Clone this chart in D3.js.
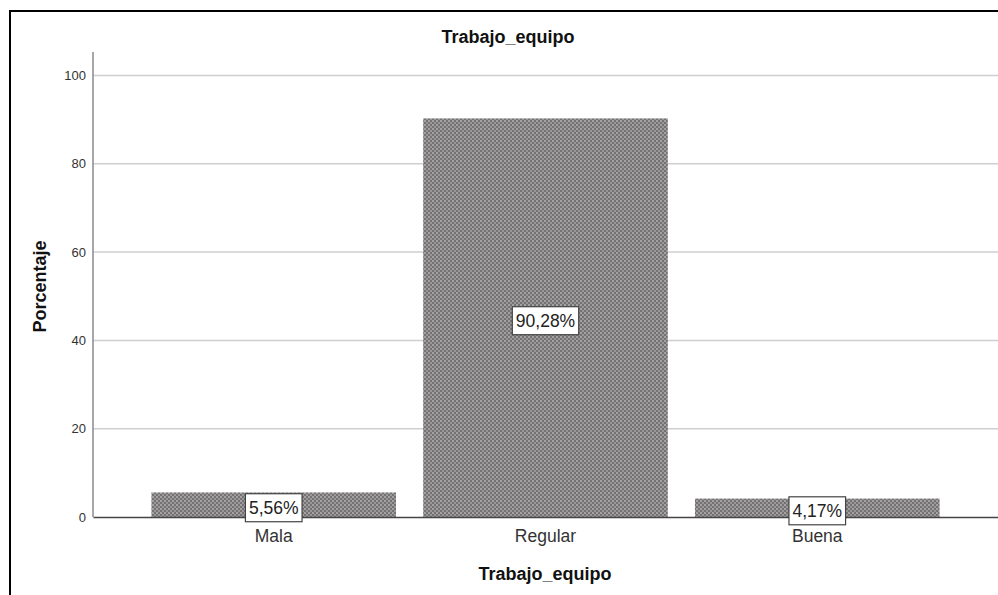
<!DOCTYPE html>
<html>
<head>
<meta charset="utf-8">
<script src="https://cdn.jsdelivr.net/npm/d3@7"></script>
<style>
  html, body { margin: 0; padding: 0; background: #fff; }
  svg { display: block; font-family: Arial, "Liberation Sans", sans-serif; }
</style>
</head>
<body>
<script>
// Distribution of "Trabajo_equipo" answers, in percent
const categories = ["Mala", "Regular", "Buena"];
const percentages = [5.56, 90.28, 4.17];
const yTicks = [0, 20, 40, 60, 80, 100];
const chartTitle = "Trabajo_equipo";
const xTitle = "Trabajo_equipo";
const yTitle = "Porcentaje";

const W = 998, H = 595;
const svg = d3.select("body").append("svg").attr("width", W).attr("height", H);

// Dotted grey fill for the bars
const defs = svg.append("defs");
const pat = defs.append("pattern")
  .attr("id", "dots").attr("patternUnits", "userSpaceOnUse")
  .attr("width", 4).attr("height", 4);
pat.append("rect").attr("width", 4).attr("height", 4).attr("fill", "#737171");
pat.append("rect").attr("x", 0).attr("y", 0).attr("width", 2).attr("height", 2).attr("fill", "#a4a2a2");
pat.append("rect").attr("x", 2).attr("y", 2).attr("width", 2).attr("height", 2).attr("fill", "#9a9898");

// Outer frame
svg.append("rect")
  .attr("x", 10).attr("y", 11).attr("width", W + 20).attr("height", H + 20)
  .attr("fill", "none").attr("stroke", "#000").attr("stroke-width", 2);

const plot = { left: 93, right: 998, top: 52, bottom: 517 };

const x = d3.scaleBand()
  .domain(categories)
  .range([plot.left, plot.right])
  .paddingInner(0.1)
  .paddingOuter(0.215);

const y = d3.scaleLinear().domain([0, 100]).range([plot.bottom, 75.5]);

// Gridlines
svg.append("g")
  .selectAll("line").data(yTicks.filter(d => d > 0)).join("line")
  .attr("x1", plot.left).attr("x2", plot.right)
  .attr("y1", d => y(d)).attr("y2", d => y(d))
  .attr("stroke", "#cfcfcf").attr("stroke-width", 1.5);

// Y axis
const yAxis = svg.append("g")
  .attr("transform", `translate(${plot.left},0)`)
  .call(d3.axisLeft(y).tickValues(yTicks).tickSize(0).tickPadding(7));
yAxis.select(".domain").remove();
yAxis.selectAll("text").attr("font-size", 13).attr("fill", "#333")
  .attr("font-family", "Arial, 'Liberation Sans', sans-serif");
svg.append("line")
  .attr("x1", plot.left).attr("x2", plot.left)
  .attr("y1", plot.top).attr("y2", plot.bottom)
  .attr("stroke", "#8a8a8a").attr("stroke-width", 1.5);

// Bars
svg.append("g")
  .selectAll("rect").data(categories).join("rect")
  .attr("x", d => x(d))
  .attr("width", x.bandwidth())
  .attr("y", (d, i) => y(percentages[i]))
  .attr("height", (d, i) => y(0) - y(percentages[i]))
  .attr("fill", "url(#dots)");

// X axis
const xAxis = svg.append("g")
  .attr("transform", `translate(0,${plot.bottom})`)
  .call(d3.axisBottom(x).tickSize(0).tickPadding(13));
xAxis.select(".domain").attr("stroke", "#444").attr("stroke-width", 1.5);
xAxis.selectAll("text").attr("font-size", 17.5).attr("fill", "#333")
  .attr("font-family", "Arial, 'Liberation Sans', sans-serif");

// Value labels in white boxes
const fmt = v => d3.format(".2f")(v).replace(".", ",") + "%";
const labels = svg.append("g").selectAll("g").data(categories).join("g")
  .attr("transform", (d, i) => {
    const cx = x(d) + x.bandwidth() / 2;
    const cy = (y(percentages[i]) + y(0)) / 2 + 3;
    return `translate(${cx},${cy})`;
  });
labels.append("text")
  .attr("text-anchor", "middle")
  .attr("dy", "0.35em")
  .attr("font-size", 17.5)
  .attr("fill", "#222")
  .text((d, i) => fmt(percentages[i]));
labels.each(function () {
  const g = d3.select(this);
  const bb = g.select("text").node().getBBox();
  g.insert("rect", "text")
    .attr("x", bb.x - 3.5).attr("width", bb.width + 7)
    .attr("y", -14).attr("height", 28)
    .attr("fill", "#fff").attr("stroke", "#444").attr("stroke-width", 1.2);
});

// Titles
svg.append("text")
  .attr("x", 508).attr("y", 43)
  .attr("text-anchor", "middle")
  .attr("font-size", 18).attr("font-weight", "bold").attr("fill", "#111")
  .text(chartTitle);

svg.append("text")
  .attr("x", 545).attr("y", 580)
  .attr("text-anchor", "middle")
  .attr("font-size", 18).attr("font-weight", "bold").attr("fill", "#111")
  .text(xTitle);

svg.append("text")
  .attr("transform", `translate(46,${(plot.top + plot.bottom) / 2 + 2}) rotate(-90)`)
  .attr("text-anchor", "middle")
  .attr("font-size", 18).attr("font-weight", "bold").attr("fill", "#111")
  .text(yTitle);
</script>
</body>
</html>
